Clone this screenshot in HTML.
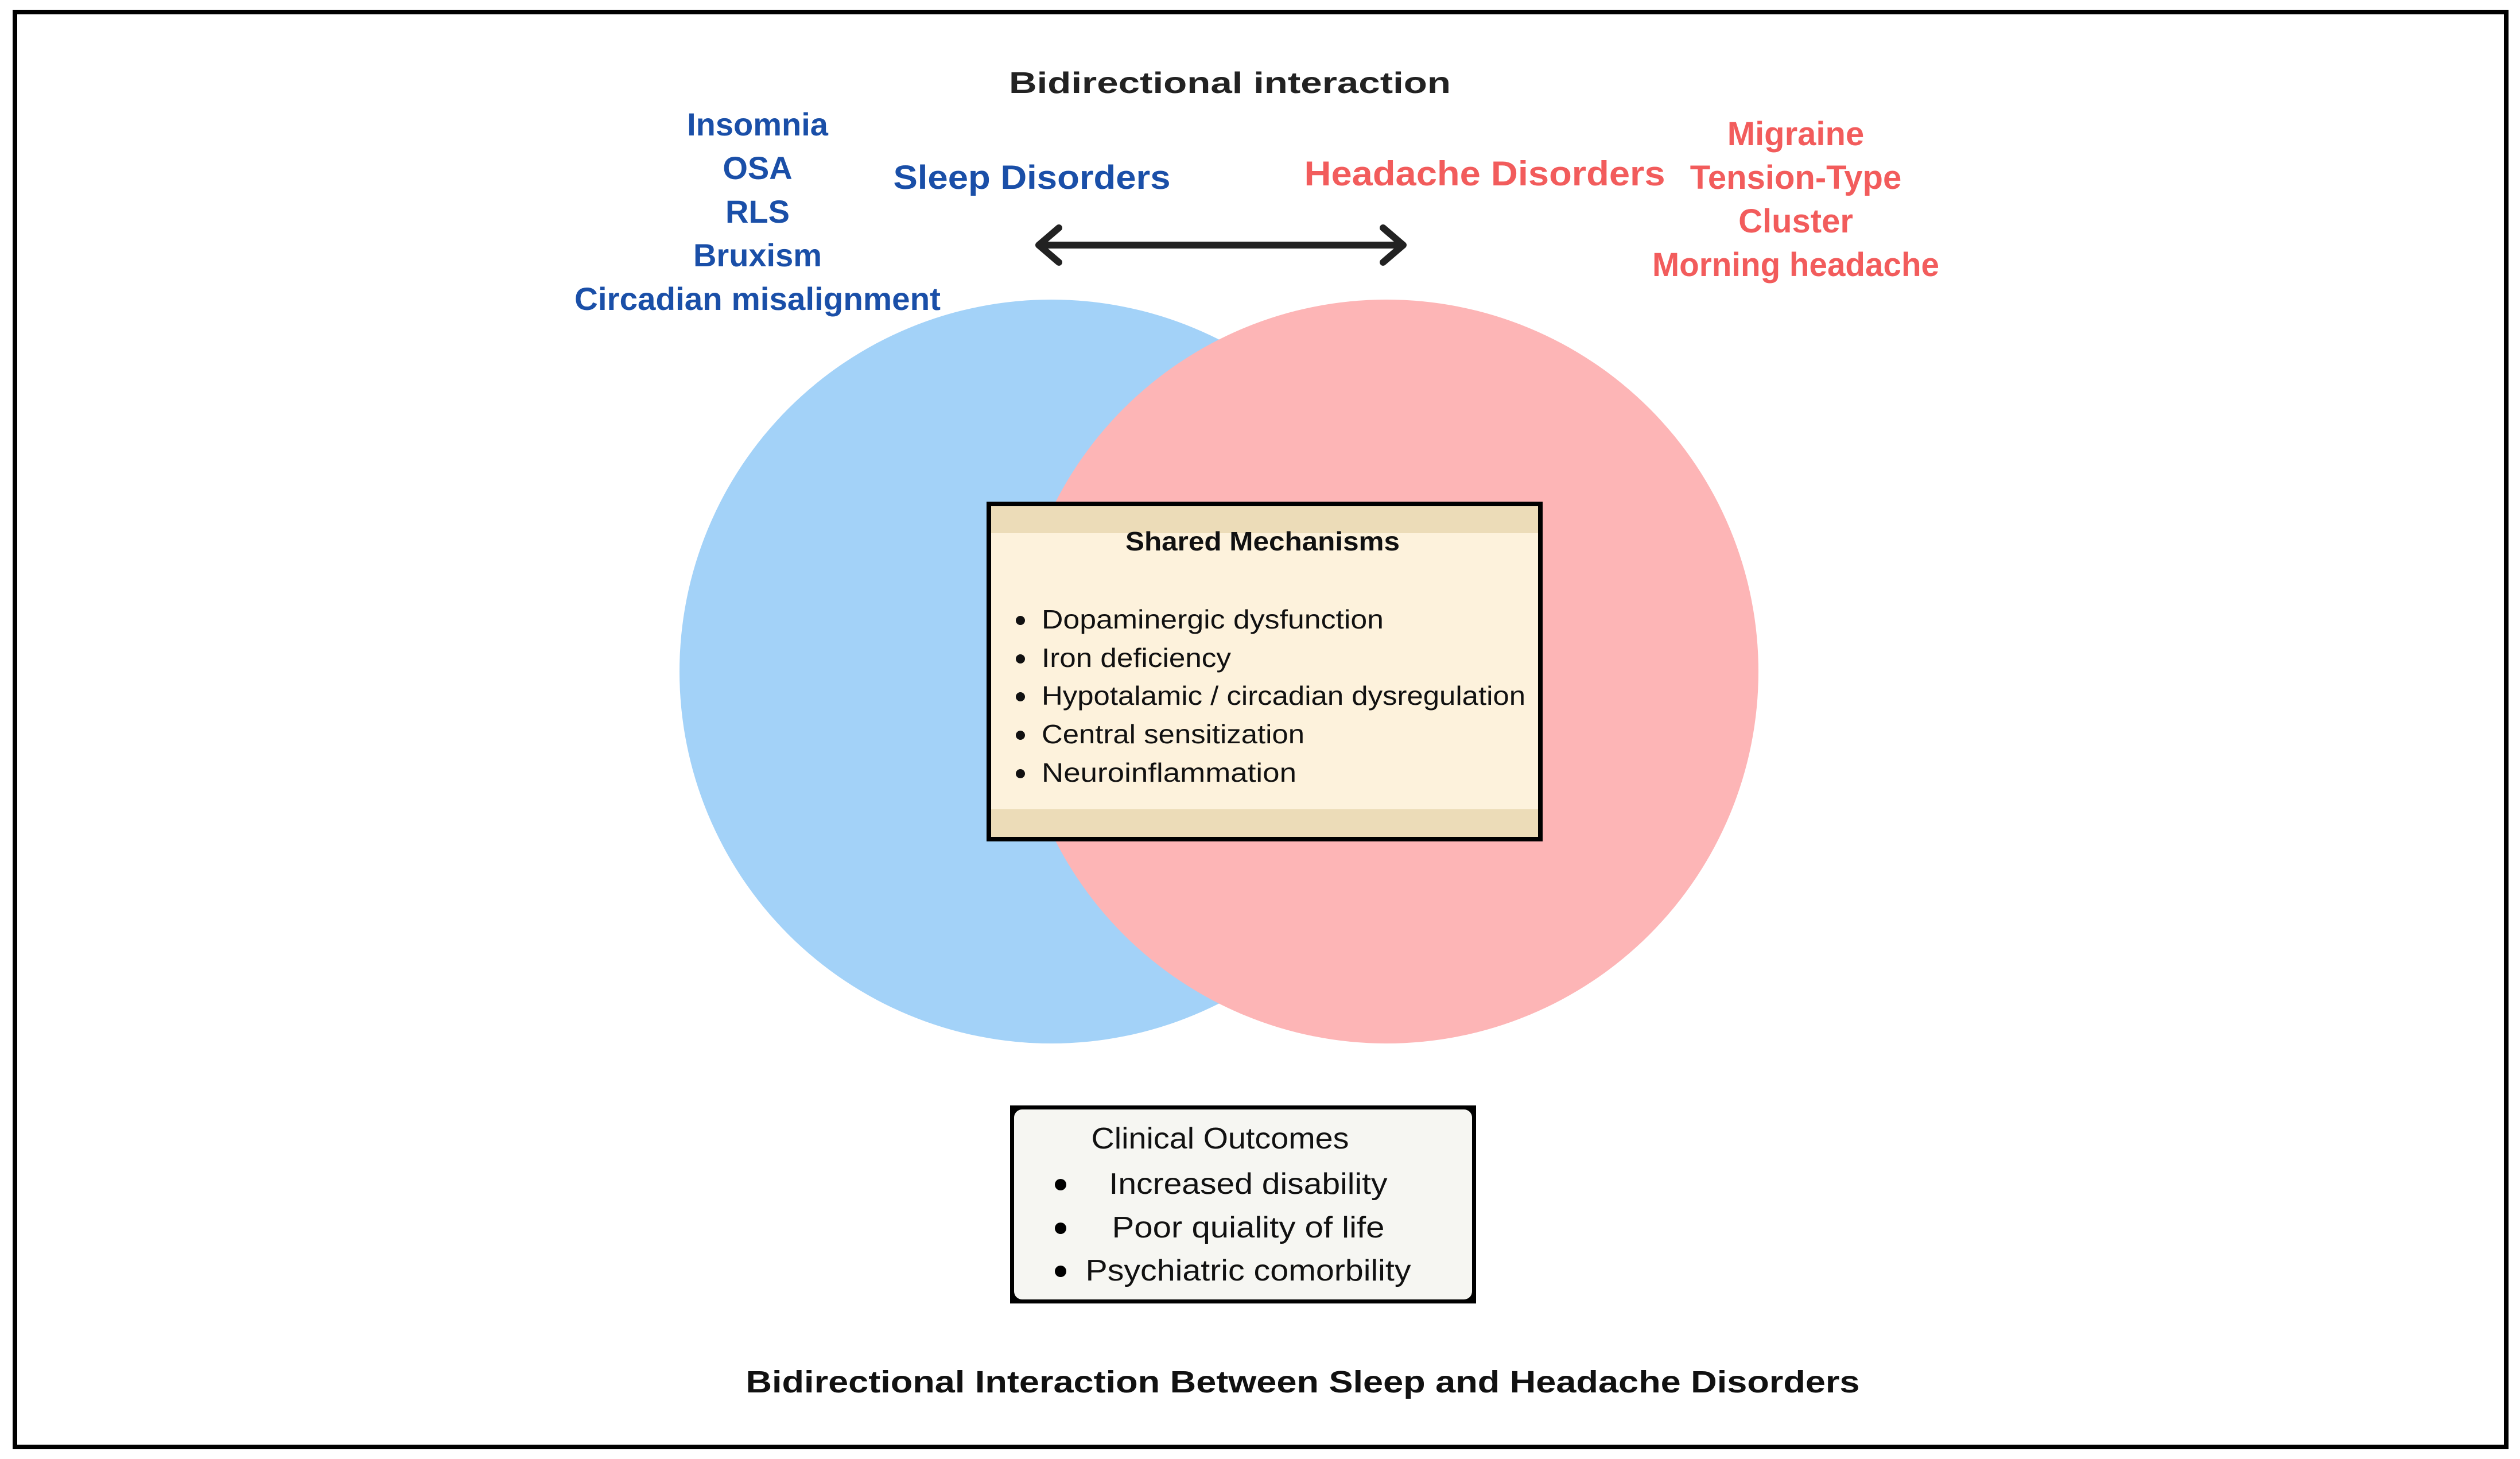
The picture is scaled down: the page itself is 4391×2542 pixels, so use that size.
<!DOCTYPE html>
<html><head><meta charset="utf-8"><style>html,body{margin:0;padding:0;background:#fff}svg{display:block}</style></head>
<body>
<svg width="4391" height="2542" viewBox="0 0 4391 2542" xmlns="http://www.w3.org/2000/svg" font-family="Liberation Sans, sans-serif">
<rect x="0" y="0" width="4391" height="2542" fill="#fff"/>
<rect x="26" y="21" width="4341" height="2500" fill="none" stroke="#000" stroke-width="8"/>
<circle cx="1832" cy="1170" r="648" fill="#a3d2f8"/>
<circle cx="2416" cy="1170" r="648" fill="#fdb5b6"/>
<!-- titles -->
<text x="2143" y="162" font-size="52" font-weight="bold" fill="#222" text-anchor="middle" textLength="770" lengthAdjust="spacingAndGlyphs">Bidirectional interaction</text>
<text x="1798" y="329" font-size="58" font-weight="bold" fill="#1a4fa8" text-anchor="middle" textLength="483" lengthAdjust="spacingAndGlyphs">Sleep Disorders</text>
<text x="2587" y="323" font-size="60" font-weight="bold" fill="#f25c5c" text-anchor="middle" textLength="629" lengthAdjust="spacingAndGlyphs">Headache Disorders</text>
<g font-size="56" font-weight="bold" fill="#1a4fa8" text-anchor="middle">
<text x="1320" y="236">Insomnia</text>
<text x="1320" y="312">OSA</text>
<text x="1320" y="388">RLS</text>
<text x="1320" y="464">Bruxism</text>
<text x="1320" y="540" textLength="638" lengthAdjust="spacingAndGlyphs">Circadian misalignment</text>
</g>
<g font-size="58" font-weight="bold" fill="#f25c5c" text-anchor="middle">
<text x="3129" y="253">Migraine</text>
<text x="3129" y="329">Tension-Type</text>
<text x="3129" y="405">Cluster</text>
<text x="3129" y="481" textLength="500" lengthAdjust="spacingAndGlyphs">Morning headache</text>
</g>
<!-- arrow -->
<g stroke="#222" stroke-width="12" fill="none" stroke-linecap="round" stroke-linejoin="round">
<line x1="1815" y1="427" x2="2440" y2="427"/>
<polyline points="1845,397 1810,427 1845,457"/>
<polyline points="2410,397 2445,427 2410,457"/>
</g>
<!-- shared mechanisms -->
<rect x="1723" y="878" width="961" height="584" fill="#fdf2dc"/>
<rect x="1723" y="878" width="961" height="51" fill="#ecdcb8"/>
<rect x="1723" y="1410" width="961" height="52" fill="#ecdcb8"/>
<rect x="1723" y="878" width="961" height="584" fill="none" stroke="#000" stroke-width="8"/>
<text x="2200" y="959" font-size="46" font-weight="bold" fill="#111" text-anchor="middle" textLength="478" lengthAdjust="spacingAndGlyphs">Shared Mechanisms</text>
<g font-size="46" fill="#111">
<circle cx="1778" cy="1081" r="8"/><text x="1815" y="1095" textLength="596" lengthAdjust="spacingAndGlyphs">Dopaminergic dysfunction</text>
<circle cx="1778" cy="1148" r="8"/><text x="1815" y="1162" textLength="330" lengthAdjust="spacingAndGlyphs">Iron deficiency</text>
<circle cx="1778" cy="1214" r="8"/><text x="1815" y="1228" textLength="843" lengthAdjust="spacingAndGlyphs">Hypotalamic / circadian dysregulation</text>
<circle cx="1778" cy="1281" r="8"/><text x="1815" y="1295" textLength="458" lengthAdjust="spacingAndGlyphs">Central sensitization</text>
<circle cx="1778" cy="1348" r="8"/><text x="1815" y="1362" textLength="444" lengthAdjust="spacingAndGlyphs">Neuroinflammation</text>
</g>
<!-- clinical outcomes -->
<rect x="1760" y="1926" width="812" height="345" fill="#000"/>
<rect x="1767" y="1933" width="798" height="331" rx="14" fill="#f6f6f2"/>
<g font-size="52" fill="#111" text-anchor="middle">
<text x="2126" y="2001" textLength="449" lengthAdjust="spacingAndGlyphs">Clinical Outcomes</text>
<text x="2175" y="2080" textLength="485" lengthAdjust="spacingAndGlyphs">Increased disability</text>
<text x="2175" y="2156" textLength="475" lengthAdjust="spacingAndGlyphs">Poor quiality of life</text>
<text x="2175" y="2231" textLength="567" lengthAdjust="spacingAndGlyphs">Psychiatric comorbility</text>
</g>
<g fill="#000">
<circle cx="1848" cy="2064" r="10"/>
<circle cx="1848" cy="2140" r="10"/>
<circle cx="1848" cy="2215" r="10"/>
</g>
<text x="2270" y="2426" font-size="54" font-weight="bold" fill="#111" text-anchor="middle" textLength="1941" lengthAdjust="spacingAndGlyphs">Bidirectional Interaction Between Sleep and Headache Disorders</text>
</svg>
</body></html>
